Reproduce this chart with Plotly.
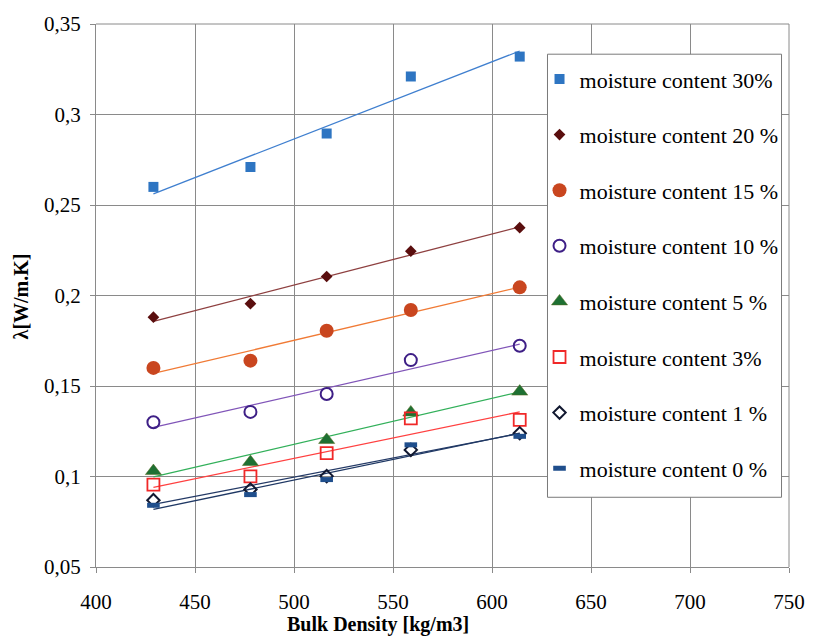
import numpy as np
import plotly.graph_objects as go

# Bulk density of the samples [kg/m3]
density = [429, 478, 516.5, 559, 614]

# Thermal conductivity λ [W/m.K] per moisture content
lam_30 = [0.260, 0.271, 0.2895, 0.321, 0.332]
lam_20 = [0.188, 0.1955, 0.2105, 0.2245, 0.2375]
lam_15 = [0.160, 0.164, 0.1805, 0.192, 0.2045]
lam_10 = [0.130, 0.1357, 0.1456, 0.1643, 0.1722]
lam_5 = [0.103, 0.108, 0.1202, 0.1354, 0.1469]
lam_3 = [0.0955, 0.1001, 0.1129, 0.1321, 0.1313]
lam_1 = [0.0869, 0.0928, 0.1002, 0.1147, 0.1239]
lam_0 = [0.0841, 0.0900, 0.0983, 0.1175, 0.1222]

labels = [
    "moisture content 30%",
    "moisture content 20 %",
    "moisture content 15 %",
    "moisture content 10 %",
    "moisture content 5 %",
    "moisture content 3%",
    "moisture content 1 %",
    "moisture content 0 %",
]

x_ticks = [400, 450, 500, 550, 600, 650, 700, 750]
y_ticks = [0.05, 0.1, 0.15, 0.2, 0.25, 0.3, 0.35]

series = [lam_30, lam_20, lam_15, lam_10, lam_5, lam_3, lam_1, lam_0]

# marker style and trendline colour for each series
styles = [
    dict(marker=dict(symbol="square", size=10, color="#2E75C2"), line="#3F7FCF"),
    dict(marker=dict(symbol="diamond", size=9, color="#5A0E0E"), line="#8E4040"),
    dict(marker=dict(symbol="circle", size=14, color="#C9461F"), line="#F07A35"),
    dict(marker=dict(symbol="circle-open", size=12, color="#3E1F86",
                     line=dict(width=2, color="#3E1F86")), line="#8055B8"),
    dict(marker=dict(symbol="triangle-up", size=14, color="#1E7033",
                     line=dict(width=0.5, color="#5A6B1E")), line="#32B05A"),
    dict(marker=dict(symbol="square-open", size=12, color="#F02828",
                     line=dict(width=1.8, color="#F02828")), line="#FF4040"),
    dict(marker=dict(symbol="diamond-open", size=9.5, color="#111830",
                     line=dict(width=2, color="#111830")), line="#243A66"),
    dict(marker=dict(symbol="line-ew", size=9, color="#1F4E8C",
                     line=dict(width=5, color="#1F4E8C")), line="#1F3864"),
]

SERIF = "Liberation Serif"

fig = go.Figure()

# linear trendlines (not in legend)
for ys, st in zip(series, styles):
    k, b = np.polyfit(density, ys, 1)
    xs = np.array([min(density), max(density)])
    fig.add_trace(go.Scatter(
        x=xs, y=k * xs + b, mode="lines",
        line=dict(color=st["line"], width=1.3),
        showlegend=False, hoverinfo="skip",
    ))

# measured points
for i, (ys, st, name) in enumerate(zip(series, styles, labels)):
    fig.add_trace(go.Scatter(
        x=density, y=ys, mode="markers", name=name,
        marker=st["marker"], legendgroup=f"g{i}",
    ))

axis_common = dict(
    showgrid=True, gridcolor="#8A8A8A", gridwidth=1,
    showline=True, linecolor="#8A8A8A", linewidth=1,
    ticks="outside", ticklen=5, tickcolor="#8A8A8A",
    tickfont=dict(family=SERIF, size=21, color="black"),
    zeroline=False,
)

fig.update_xaxes(range=[400, 750], tickvals=x_ticks, ticklabelstandoff=11,
                 **axis_common)
fig.update_yaxes(range=[0.05, 0.35], tickvals=y_ticks, ticklabelstandoff=5,
                 **axis_common)

fig.update_layout(
    width=817, height=637,
    margin=dict(l=96, r=19, t=22, b=70),
    paper_bgcolor="white", plot_bgcolor="white",
    separators=",.",
    font=dict(family=SERIF),
    showlegend=True,
    legend=dict(
        x=0.640, y=0.937, xanchor="left", yanchor="top",
        bgcolor="rgba(0,0,0,0)", borderwidth=0,
        font=dict(family=SERIF, size=22, color="black"),
        tracegroupgap=24,
    ),
    shapes=[
        # top and right border of plot area
        dict(type="line", xref="paper", yref="paper", x0=0, x1=1, y0=1, y1=1,
             line=dict(color="#8A8A8A", width=1)),
        dict(type="line", xref="paper", yref="paper", x0=1, x1=1, y0=0, y1=1,
             line=dict(color="#8A8A8A", width=1)),
        # legend frame
        dict(type="rect", xref="paper", yref="paper",
             x0=0.6515, x1=0.9892, y0=0.1284, y1=0.9444,
             fillcolor="white", line=dict(color="#7A7A7A", width=1),
             layer="above"),
    ],
    annotations=[
        dict(text="<b>Bulk Density [kg/m3]</b>", xref="paper", yref="paper",
             x=0.4065, y=-0.1064, xanchor="center", yanchor="middle",
             showarrow=False, font=dict(family=SERIF, size=20, color="black")),
        dict(text="<b>λ[W/m.K]</b>", xref="paper", yref="paper",
             x=-0.1078, y=0.4988, xanchor="center", yanchor="middle",
             textangle=-90, showarrow=False,
             font=dict(family=SERIF, size=20, color="black")),
    ],
)

fig.write_html("out.html")
